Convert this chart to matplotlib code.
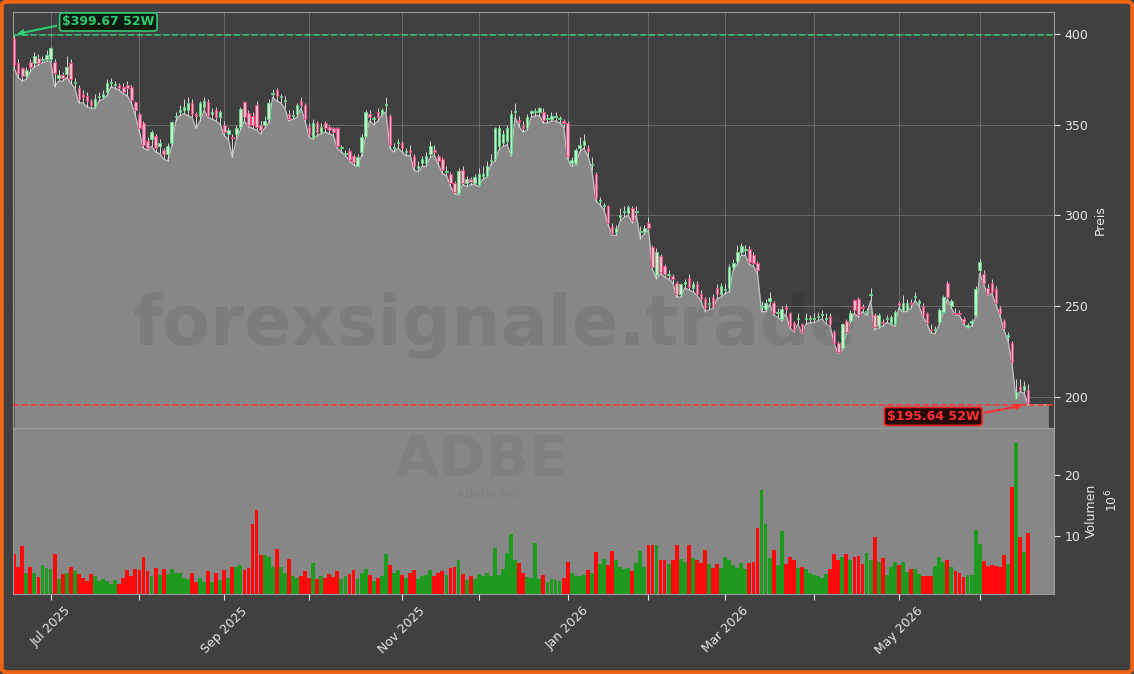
import matplotlib
matplotlib.use("Agg")
import matplotlib.pyplot as plt
import numpy as np
import pandas as pd
from matplotlib.patches import FancyBboxPatch

# --- data (ADBE, daily, ~52 weeks) ---
START = "2025-06-17"
N_DAYS = 252
HOLIDAYS = ["2025-06-19", "2025-07-04", "2025-09-01", "2025-11-27", "2025-12-25",
            "2026-01-01", "2026-01-19", "2026-02-16", "2026-04-03", "2026-05-25"]

opens = [398, 384, 381, 377, 384.5, 384, 386.5, 385.5, 386, 386,
         384.5, 376, 377.5, 378, 384, 373, 370, 367, 366, 363,
         360, 365, 365, 368, 373, 372, 372, 371, 372, 371,
         362.5, 356, 351, 341, 342, 344, 338, 336, 334, 340,
         354, 357, 358, 358, 362, 356, 355, 360, 362.5, 356,
         358, 354, 350, 345, 343, 345, 349, 362.5, 356.5, 355,
         361, 350, 350, 353, 367, 369, 365, 363, 356, 355,
         356, 363, 361, 349, 343, 351, 346, 351, 349, 348,
         348, 337, 334, 335.5, 333, 327.5, 335, 344, 356, 353,
         357, 356, 361, 355, 337, 340, 340, 335, 336, 333,
         326, 329, 329, 334, 336, 333, 331, 324, 323, 318,
         312.4, 325, 318, 320, 318, 317, 322, 322, 330, 331,
         338, 340, 341, 334, 357, 352.5, 350, 348, 356.7, 357,
         357, 357, 353, 353, 354, 353, 352, 351, 329, 329,
         337, 339, 337, 328, 323, 308, 305, 305, 294, 291,
         299, 302, 301.4, 304, 302, 291, 291, 296, 282.6, 267,
         277.7, 272, 267, 266.7, 263, 257, 262, 265.6, 260, 262,
         257, 254, 251, 255, 260, 257, 259, 260, 271.6, 275,
         280, 281, 281.5, 278, 274, 249.6, 248.5, 253, 252, 246,
         243, 249.5, 246, 241, 243, 240, 243, 243, 243, 244,
         245, 243, 244, 236, 230, 227, 242, 242, 253.5, 254,
         249.5, 247, 256, 245, 239, 241.5, 243, 241, 240, 251.5,
         248, 248, 251.5, 255, 252, 250, 246, 237.5, 237, 241.5,
         247, 263, 250, 246.5, 246.5, 243, 238.8, 240.5, 245, 270,
         268, 260, 263, 259.5, 249, 242, 233, 230, 199.5, 206,
         204, 204]
highs = [399.67, 386, 382, 382, 386, 390, 389, 388, 391, 393,
         386, 380, 379, 388, 386, 376, 372, 369, 368, 364,
         367, 368, 369, 375, 376, 374, 373, 373, 374, 372,
         363, 357, 352, 343, 347, 345, 342, 337, 340, 352,
         357, 361, 364, 365, 364, 357, 363, 365, 364, 359,
         360, 358, 352, 349, 345, 350, 360, 363, 358, 357,
         363, 352, 355, 364, 369.5, 370, 367, 366, 358, 358,
         362, 365, 362, 351, 353, 352, 351, 352, 350, 349,
         349, 339, 336, 337, 334, 334, 345, 358, 358, 355,
         359, 359, 365, 356, 340, 342, 341, 337, 339, 334,
         330, 333, 335, 341, 339, 334, 332, 327, 324, 319,
         326, 327, 322, 321, 323, 326, 327, 330, 334, 349,
         350, 347, 350, 358, 362, 355, 352, 356, 358, 359,
         360, 359, 356, 357, 357, 355, 353, 352, 332, 337,
         343, 345, 339, 332, 324, 310, 307, 306, 296, 295,
         304, 305, 306, 305, 305, 294, 295, 299, 284, 282,
         279, 273, 270, 268, 264, 263, 265, 268, 264, 264,
         259, 255, 255, 257, 262, 263, 262, 273, 276, 284,
         285, 284, 283, 280, 275, 253, 254, 258, 253, 249,
         250, 251, 247, 242, 246, 241, 246, 245, 246, 247,
         248, 246, 246, 237, 231, 241, 243, 248, 254, 255,
         251, 249, 260, 246, 246, 243, 245, 245, 248, 253,
         256, 254, 254, 258, 254, 252, 247, 240, 239, 249,
         256, 264, 254, 249, 248, 244, 241, 243, 261, 276,
         270, 262, 265, 261, 250, 243, 236, 231, 210, 210,
         209, 207]
lows = [381, 376, 374, 375, 379, 382, 383, 384, 385, 385,
        371, 374, 374, 376, 373, 370, 362, 362, 360, 359,
        359, 363, 364, 366, 371, 370, 369, 367, 366, 362,
        355, 346, 337, 336, 338, 335, 334, 331, 330, 338,
        352, 355, 356, 355, 354, 348, 352, 358, 354, 353,
        352, 350, 344, 342, 332, 342, 347, 352, 349, 348,
        347, 345, 348, 351, 365, 363, 362, 359, 352, 353,
        354, 359, 352, 343, 342, 344, 345, 346, 345, 344,
        337, 335, 333, 330, 328, 327, 333, 343, 352, 350,
        352, 355, 357, 337, 335, 337, 335, 333, 333, 325,
        324, 327, 327, 332, 333, 328, 323, 322, 316, 312,
        311.5, 317, 316, 317, 317, 316, 320, 321, 328, 330,
        336, 338, 339, 333, 354, 349, 346, 347, 354, 355,
        355, 351, 351, 352, 352, 351, 349, 331, 327, 328,
        335, 337, 333, 325, 308, 306, 303, 295, 289, 289,
        297, 299, 300, 296, 300, 287, 290, 292, 270, 265,
        268, 266, 265, 263, 255, 255, 260, 259, 258, 256,
        253, 247, 248, 249, 254, 255, 257, 258, 270, 273,
        278, 278, 273, 272, 268, 247, 247, 251, 245, 244,
        242, 246, 238, 236, 240, 235, 240, 241, 241, 242,
        243, 240, 239, 229, 224, 226, 235, 241, 246, 244,
        247, 245, 253, 237, 238, 239, 241, 240, 239, 249,
        247, 247, 249, 253, 250, 244, 240, 235, 235, 240,
        246, 254, 249, 245, 245, 240, 238, 239, 244, 268,
        262, 256, 257, 251, 245, 237, 231, 218, 199, 203,
        202, 195.64]
closes = [383, 378.5, 377, 380, 382, 388, 384, 385.8, 388.5, 392,
          378.5, 377.5, 376, 382, 375, 373.5, 364, 365, 363, 361,
          364, 365.5, 367, 373, 373.3, 372.4, 370, 368, 370, 363.6,
          358, 348, 339, 337, 346, 337, 340, 334, 338, 351.5,
          355, 358, 360, 362, 356, 355, 362, 363, 355, 357,
          354, 357, 346, 347, 342.7, 348, 358.7, 354, 350, 350,
          349, 347, 352, 362, 367.5, 366, 365.3, 363.3, 353, 355.3,
          361, 361, 353, 345, 351, 346, 349, 348, 347, 346,
          338, 337.3, 334.3, 330.6, 329.5, 332, 343, 357, 354, 353.3,
          354, 358, 361.3, 339, 337.3, 340.3, 337, 335.3, 335, 327,
          327.5, 331, 333, 338, 335, 330, 325, 324.3, 318, 313,
          324.5, 318, 320, 318.5, 321, 323, 322.3, 327, 330.3, 348,
          348, 345, 348, 356, 357.3, 351.5, 348, 354, 357, 357.2,
          359, 352.5, 353.3, 355, 354.3, 353.3, 351, 333, 330.5, 336,
          339, 341, 335.5, 328.3, 309.6, 308.3, 305.3, 296, 290, 293,
          300, 302.3, 304.7, 297.5, 302.3, 291.3, 293, 293, 271.6, 280,
          269, 268, 267.3, 265, 257, 262, 263.5, 260.6, 262, 257,
          254, 249, 251.3, 250, 257, 261, 259.3, 271.6, 274, 280,
          283, 281.3, 274.6, 274, 270, 250, 252, 254.5, 246, 246.3,
          248.5, 248.5, 239, 237, 243.3, 236, 243.3, 243.2, 243.3, 244.3,
          245.3, 243.3, 240, 230, 225, 240, 236, 246, 248, 245,
          249, 247.3, 256.3, 238.6, 245, 240.5, 243.3, 244, 247, 250.5,
          252, 252, 251, 255.3, 252.3, 245, 241, 237, 237.3, 248,
          255, 255, 253, 245.5, 245.5, 241.5, 239.3, 242, 259.5, 274.4,
          263, 257, 258, 252, 246, 238, 234, 219, 203, 204,
          206, 196.5]
# volume in millions
volumes = [7.0, 4.9, 8.4, 3.9, 4.9, 3.9, 3.3, 5.2, 4.8, 4.6,
           7.0, 2.9, 3.8, 3.9, 4.9, 4.2, 3.8, 3.1, 2.6, 3.8,
           3.4, 2.6, 3.0, 2.6, 2.1, 2.8, 2.1, 3.1, 4.4, 3.4,
           4.6, 4.4, 6.6, 4.2, 3.4, 4.8, 3.6, 4.6, 3.8, 4.6,
           4.0, 4.0, 3.1, 2.9, 4.0, 2.5, 3.2, 2.5, 4.3, 2.5,
           4.0, 2.8, 4.4, 3.1, 5.0, 4.9, 5.2, 4.4, 4.8, 12.0,
           14.3, 6.9, 6.9, 6.6, 4.9, 7.9, 4.9, 4.0, 6.2, 3.4,
           3.2, 3.5, 4.2, 3.2, 5.6, 3.0, 3.4, 3.2, 3.8, 3.3,
           4.2, 3.0, 3.5, 3.8, 4.4, 3.0, 4.0, 4.6, 3.6, 2.6,
           3.2, 3.4, 7.0, 5.2, 4.0, 4.4, 3.6, 3.2, 4.0, 4.4,
           3.0, 3.4, 3.6, 4.5, 3.5, 4.0, 4.3, 3.6, 4.8, 5.0,
           6.0, 3.8, 2.8, 3.4, 3.0, 3.8, 3.4, 4.0, 3.5, 8.0,
           3.6, 4.6, 7.2, 10.3, 6.0, 5.6, 4.0, 3.3, 3.2, 8.8,
           3.0, 3.6, 2.4, 3.0, 2.8, 2.6, 3.2, 5.7, 4.0, 3.4,
           3.4, 3.6, 4.4, 4.0, 7.4, 5.4, 6.2, 5.2, 7.6, 6.0,
           5.0, 4.6, 4.8, 4.2, 5.6, 7.5, 5.0, 8.5, 8.6, 8.6,
           6.0, 6.0, 5.4, 6.0, 8.6, 6.2, 5.8, 8.6, 6.4, 6.0,
           5.6, 7.7, 5.4, 4.8, 5.4, 4.8, 6.6, 6.0, 5.2, 4.8,
           5.6, 4.6, 5.6, 5.8, 11.3, 17.5, 12.0, 6.4, 7.7, 5.2,
           10.8, 5.4, 6.6, 6.0, 4.8, 5.0, 4.6, 4.0, 3.6, 3.4,
           3.2, 3.8, 4.6, 7.0, 6.0, 6.6, 7.0, 6.0, 6.6, 6.8,
           5.4, 7.2, 6.0, 9.9, 5.8, 6.4, 3.6, 5.0, 5.8, 5.2,
           5.7, 4.1, 4.6, 4.6, 3.8, 3.5, 3.5, 3.5, 5.1, 6.6,
           5.7, 6.1, 4.9, 4.3, 4.0, 3.3, 3.6, 3.6, 11.0, 8.7,
           5.9, 5.1, 5.3, 5.1, 4.9, 6.9, 5.4, 18.0, 25.3, 9.8,
           7.4, 10.5]

HIGH_52W = 399.67
LOW_52W = 195.64
TICKER = "ADBE"
COMPANY = "Adobe Inc."

# --- build frame ---
dates = pd.bdate_range(START, periods=N_DAYS, freq="C", holidays=HOLIDAYS)
df = pd.DataFrame({"open": opens, "high": highs, "low": lows,
                   "close": closes, "volume": volumes}, index=dates)
x = np.arange(len(df))
up = (df["close"] >= df["open"]).values

BG = "#404040"
FILL = "#878787"
TXT = "#e6e6e6"

fig = plt.figure(figsize=(11.34, 6.74), dpi=100, facecolor=BG)
W, H = 1134, 674
ax = fig.add_axes([12.5 / W, 1 - 428 / H, 1041.5 / W, 416 / H], facecolor=BG)
axv = fig.add_axes([12.5 / W, 1 - 594 / H, 1041.5 / W, 166 / H], facecolor=FILL, sharex=ax)

# area under the lows, carried a few bars past the last candle
xf = np.append(x, x[-1] + 5)
lf = np.append(df["low"].values, df["low"].values[-1])
ax.fill_between(xf, lf, 150, color=FILL, zorder=1, linewidth=0)
ax.plot(xf, lf, color="#bdbdbd", lw=1.0, zorder=2)

# candles
body_lo = np.minimum(df["open"], df["close"]).values
body_h = np.maximum(np.abs(df["close"] - df["open"]).values, 0.6)
face = np.where(up, "#cdeccf", "#f4b8c7")
edge = np.where(up, "#62d486", "#ea4a7c")
ax.vlines(x, df["low"], df["high"], color="#d4d4d4", lw=0.7, zorder=3)
ax.bar(x, body_h, bottom=body_lo, width=0.62, color=face, edgecolor=edge,
       linewidth=0.7, zorder=4)

# volume
vcol = np.where(up, "#1f9a1f", "#ff0a0a")
axv.bar(x, df["volume"], width=0.95, color=vcol, linewidth=0)

# 52-week lines and labels
ax.axhline(HIGH_52W, color="#2ecc71", ls="--", lw=1.2, alpha=0.9, zorder=5)
ax.axhline(LOW_52W, color="#ff3030", ls="--", lw=1.2, alpha=0.9, zorder=5)
ax.annotate(f"\\${HIGH_52W:.2f} 52W", xy=(0, HIGH_52W), xytext=(23.3, 406.6),
            ha="center", va="center", color="#2ecc71", fontsize=9, fontweight="bold",
            bbox=dict(boxstyle="round,pad=0.2", fc="#0b1a10", ec="#2ecc71", lw=1.2),
            arrowprops=dict(arrowstyle="-|>", color="#2ecc71", lw=1.5,
                            relpos=(0, 0.3), mutation_scale=8), zorder=6)
ax.annotate(f"\\${LOW_52W:.2f} 52W", xy=(250.3, LOW_52W), xytext=(227.5, 189.3),
            ha="center", va="center", color="#ff3030", fontsize=9, fontweight="bold",
            bbox=dict(boxstyle="round,pad=0.2", fc="#260808", ec="#ff2020", lw=1.2),
            arrowprops=dict(arrowstyle="-|>", color="#ff3030", lw=1.5,
                            relpos=(1, 0.7), mutation_scale=8), zorder=6)

# watermarks
ax.text(0.463, 0.248, "forexsignale.trade", transform=ax.transAxes, fontsize=50,
        fontweight="bold", color="black", alpha=0.08, ha="center", va="center", zorder=2.5)
fig.text(482 / W, 1 - 461 / H, TICKER, fontsize=41, fontweight="bold", color="black",
         alpha=0.06, ha="center", va="center")
fig.text(490 / W, 1 - 494 / H, COMPANY, fontsize=9, color="black", alpha=0.06,
         ha="center", va="center")

# axes styling
ax.set_xlim(-0.42, 257.4)
ax.set_ylim(182.9, 412.1)
axv.set_ylim(0.5, 27.7)

month_first = [i for i in range(len(df)) if i == 0 or dates[i].month != dates[i - 1].month][1:]
labels = [dates[i].strftime("%b %Y") if dates[i].month % 2 == 1 else "" for i in month_first]
axv.set_xticks(month_first)
axv.set_xticklabels(labels, rotation=45, color=TXT, fontsize=9.5)
ax.tick_params(axis="x", which="both", bottom=False, labelbottom=False)

ax.set_yticks([200, 250, 300, 350, 400])
for a in (ax, axv):
    a.yaxis.tick_right()
    a.yaxis.set_label_position("right")
    a.tick_params(colors=TXT, labelsize=9, length=4)
    for s in a.spines.values():
        s.set_color("#9a9a9a")
        s.set_linewidth(0.8)
axv.set_yticks([10, 20])
ax.grid(True, color="#6a6a6a", lw=0.7, zorder=0)
ax.set_axisbelow(True)
ax.set_ylabel("Preis", color=TXT, fontsize=9, labelpad=4)
axv.set_ylabel("Volumen", color=TXT, fontsize=9, labelpad=3)
fig.text(1112 / W, 1 - 500 / H, "$10^{6}$", rotation=90, color=TXT, fontsize=9,
         ha="center", va="center")

# orange frame
fig.patches.append(FancyBboxPatch((0.0015, 0.0025), 0.997, 0.995,
                                  boxstyle="round,pad=0,rounding_size=0.006",
                                  transform=fig.transFigure, fc="none",
                                  ec="#ee6416", lw=3))

fig.savefig("out.png", dpi=100, facecolor=BG)
